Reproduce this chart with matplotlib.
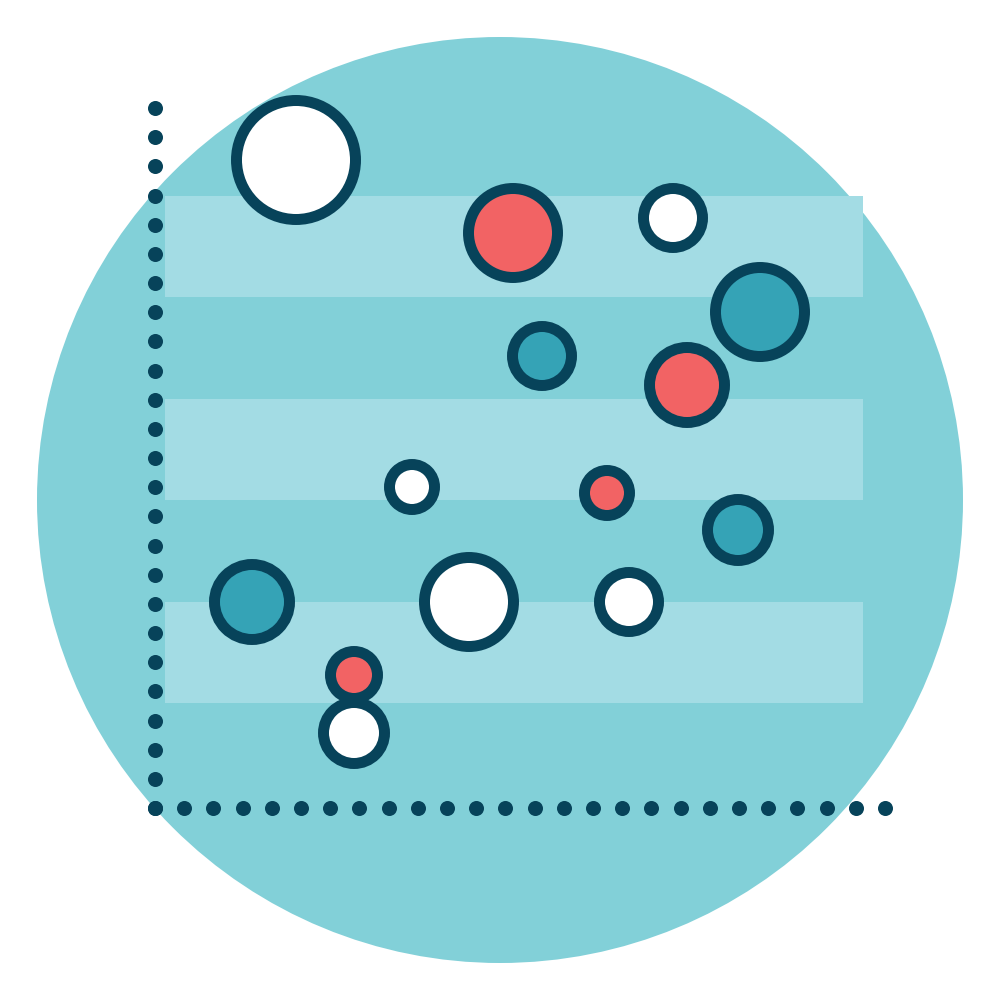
import matplotlib
matplotlib.use("Agg")
import matplotlib.pyplot as plt
from matplotlib.patches import Circle, Rectangle

# bubble data (x, y in pixel-like units, outer radius, kind)
bx = [296, 513, 673, 760, 542, 687, 412, 607, 738, 252, 469, 629, 354, 354]
by = [160, 233, 218, 312, 356, 385, 487, 493, 530, 602, 602, 602, 675, 733]
br = [65, 50, 35, 50, 35, 43, 28, 28, 36, 43, 50, 35, 29, 36]
kind = ["w", "r", "w", "t", "t", "r", "w", "r", "t", "t", "w", "w", "r", "w"]

# light bands (top, bottom)
band_top = [196, 399, 602]
band_bot = [297, 500, 703]

# dotted axes
vdots_y = [108 + i * 29.17 for i in range(25)]
hdots_x = [155 + i * 29.2 for i in range(26)]

colors = {"w": "#FFFFFF", "r": "#F26364", "t": "#35A3B6"}
dark = "#07435A"

fig = plt.figure(figsize=(10, 10), dpi=100)
ax = fig.add_axes([0, 0, 1, 1])
ax.set_xlim(0, 1000)
ax.set_ylim(1000, 0)
ax.set_aspect("equal")
ax.axis("off")

ax.add_patch(Circle((500, 500), 463, facecolor="#82D0D8", edgecolor="none"))
for t, b in zip(band_top, band_bot):
    ax.add_patch(Rectangle((165, t), 698, b - t, facecolor="#A3DCE4", edgecolor="none"))

ax.scatter([155] * len(vdots_y), vdots_y, s=15 ** 2 * 0.52, color=dark, zorder=3, linewidths=0)
ax.scatter(hdots_x, [808] * len(hdots_x), s=15 ** 2 * 0.52, color=dark, zorder=3, linewidths=0)

for x, y, r, k in zip(bx, by, br, kind):
    ax.add_patch(Circle((x, y), r - 5.5, facecolor=colors[k], edgecolor=dark,
                        linewidth=7.9, zorder=4))

fig.savefig("out.png", dpi=100)
